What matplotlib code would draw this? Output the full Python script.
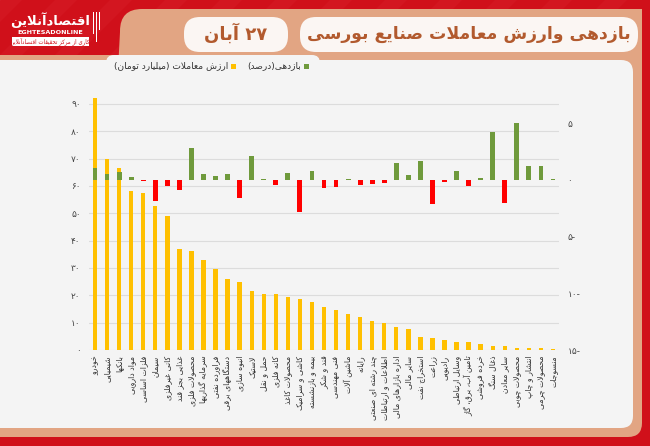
import re
import matplotlib
matplotlib.use("Agg")
import matplotlib.pyplot as plt
from matplotlib.patches import FancyBboxPatch, Rectangle, Polygon

# ---------------- data ----------------
categories = [
    "خودرو", "شیمیایی", "بانکها", "مواد دارویی", "فلزات اساسی", "سیمان",
    "کانی غیرفلزی", "غذایی بجز قند", "محصولات فلزی", "سرمایه گذاریها",
    "فراورده نفتی", "دستگاههای برقی", "انبوه سازی", "لاستیک", "حمل و نقل",
    "کانه فلزی", "محصولات کاغذ", "کاشی و سرامیک", "بیمه و بازنشسته",
    "قند و شکر", "فنی مهندسی", "ماشین آلات", "رایانه", "چند رشته ای صنعتی",
    "اطلاعات و ارتباطات", "اداره بازارهای مالی", "سایر مالی", "استخراج نفت",
    "زراعت", "رادیویی", "وسایل ارتباطی", "تامین آب، برق، گاز", "خرده فروشی",
    "ذغال سنگ", "سایر معادن", "محصولات چوبی", "انتشار و چاپ",
    "محصولات چرمی", "منسوجات",
]
trade_value = [
    92.1, 70.0, 66.7, 58.3, 57.3, 52.8, 49.0, 37.0, 36.2, 32.9,
    29.5, 26.1, 25.0, 21.7, 20.6, 20.4, 19.5, 18.5, 17.7, 15.7,
    14.6, 13.0, 12.2, 10.6, 10.0, 8.3, 7.8, 4.6, 4.3, 3.8,
    3.0, 3.0, 2.1, 1.6, 1.3, 0.9, 0.8, 0.7, 0.2,
]
returns_pct = [
    1.10, 0.53, 0.67, 0.29, -0.05, -1.89, -0.56, -0.88, 2.79, 0.53,
    0.35, 0.53, -1.56, 2.14, 0.07, -0.44, 0.58, -2.80, 0.82, -0.71,
    -0.65, 0.10, -0.44, -0.38, -0.30, 1.47, 0.44, 1.68, -2.12, -0.21,
    0.82, -0.50, 0.20, 4.26, -2.03, 5.00, 1.20, 1.26, 0.05,
]
left_ticks = [0, 10, 20, 30, 40, 50, 60, 70, 80, 90]
right_ticks = [-15, -10, -5, 0, 5]
title = "بازدهی وارزش معاملات صنایع بورسی"
date_text = "۲۷ آبان"
legend_return = "بازدهی(درصد)"
legend_value = "ارزش معاملات (میلیارد تومان)"

# ---------------- minimal Persian shaping ----------------
F = {
    'ء': ('\uFE80', None, None, None),
    'آ': ('\uFE81', '\uFE82', None, None),
    'أ': ('\uFE83', '\uFE84', None, None),
    'ؤ': ('\uFE85', '\uFE86', None, None),
    'إ': ('\uFE87', '\uFE88', None, None),
    'ئ': ('\uFE89', '\uFE8A', '\uFE8B', '\uFE8C'),
    'ا': ('\uFE8D', '\uFE8E', None, None),
    'ب': ('\uFE8F', '\uFE90', '\uFE91', '\uFE92'),
    'ة': ('\uFE93', '\uFE94', None, None),
    'ت': ('\uFE95', '\uFE96', '\uFE97', '\uFE98'),
    'ث': ('\uFE99', '\uFE9A', '\uFE9B', '\uFE9C'),
    'ج': ('\uFE9D', '\uFE9E', '\uFE9F', '\uFEA0'),
    'ح': ('\uFEA1', '\uFEA2', '\uFEA3', '\uFEA4'),
    'خ': ('\uFEA5', '\uFEA6', '\uFEA7', '\uFEA8'),
    'د': ('\uFEA9', '\uFEAA', None, None),
    'ذ': ('\uFEAB', '\uFEAC', None, None),
    'ر': ('\uFEAD', '\uFEAE', None, None),
    'ز': ('\uFEAF', '\uFEB0', None, None),
    'س': ('\uFEB1', '\uFEB2', '\uFEB3', '\uFEB4'),
    'ش': ('\uFEB5', '\uFEB6', '\uFEB7', '\uFEB8'),
    'ص': ('\uFEB9', '\uFEBA', '\uFEBB', '\uFEBC'),
    'ض': ('\uFEBD', '\uFEBE', '\uFEBF', '\uFEC0'),
    'ط': ('\uFEC1', '\uFEC2', '\uFEC3', '\uFEC4'),
    'ظ': ('\uFEC5', '\uFEC6', '\uFEC7', '\uFEC8'),
    'ع': ('\uFEC9', '\uFECA', '\uFECB', '\uFECC'),
    'غ': ('\uFECD', '\uFECE', '\uFECF', '\uFED0'),
    'ف': ('\uFED1', '\uFED2', '\uFED3', '\uFED4'),
    'ق': ('\uFED5', '\uFED6', '\uFED7', '\uFED8'),
    'ك': ('\uFED9', '\uFEDA', '\uFEDB', '\uFEDC'),
    'ل': ('\uFEDD', '\uFEDE', '\uFEDF', '\uFEE0'),
    'م': ('\uFEE1', '\uFEE2', '\uFEE3', '\uFEE4'),
    'ن': ('\uFEE5', '\uFEE6', '\uFEE7', '\uFEE8'),
    'ه': ('\uFEE9', '\uFEEA', '\uFEEB', '\uFEEC'),
    'و': ('\uFEED', '\uFEEE', None, None),
    'ى': ('\uFEEF', '\uFEF0', None, None),
    'ي': ('\uFEF1', '\uFEF2', '\uFEF3', '\uFEF4'),
    'پ': ('\uFB56', '\uFB57', '\uFB58', '\uFB59'),
    'چ': ('\uFB7A', '\uFB7B', '\uFB7C', '\uFB7D'),
    'ژ': ('\uFB8A', '\uFB8B', None, None),
    'ک': ('\uFB8E', '\uFB8F', '\uFB90', '\uFB91'),
    'گ': ('\uFB92', '\uFB93', '\uFB94', '\uFB95'),
    'ی': ('\uFBFC', '\uFBFD', '\uFBFE', '\uFBFF'),
}
LAM_ALEF = {'ا': ('\uFEFB', '\uFEFC'), 'آ': ('\uFEF5', '\uFEF6'),
            'أ': ('\uFEF7', '\uFEF8'), 'إ': ('\uFEF9', '\uFEFA')}
MIRROR = {'(': ')', ')': '(', '«': '»', '»': '«'}


def _dual(c):
    return c in F and F[c][2] is not None


def _shape(text):
    out = []
    i, n = 0, len(text)
    while i < n:
        c = text[i]
        if c not in F:
            if c != '\u200c':
                out.append(c)
            i += 1
            continue
        prev = text[i - 1] if i > 0 else None
        cp = prev is not None and _dual(prev) and F[c][1] is not None
        if c == 'ل' and i + 1 < n and text[i + 1] in LAM_ALEF:
            lig = LAM_ALEF[text[i + 1]]
            out.append(lig[1] if cp else lig[0])
            i += 2
            continue
        nxt = text[i + 1] if i + 1 < n else None
        cn = _dual(c) and nxt is not None and nxt in F and F[nxt][1] is not None
        iso, fin, ini, med = F[c]
        if cp and cn:
            g = med
        elif cp:
            g = fin
        elif cn:
            g = ini
        else:
            g = iso
        out.append(g)
        i += 1
    return ''.join(out)


def fa(text):
    s = _shape(text)
    runs = re.findall(r'[0-9۰-۹]+|[^0-9۰-۹]+', s)
    res = []
    for r in reversed(runs):
        if re.match(r'[0-9۰-۹]', r):
            res.append(r)
        else:
            res.append(''.join(MIRROR.get(ch, ch) for ch in reversed(r)))
    return ''.join(res)


def fa_num(v):
    return fa(str(v).translate(str.maketrans('0123456789', '۰۱۲۳۴۵۶۷۸۹')))


plt.rcParams['font.family'] = ['DejaVu Sans']

# ---------------- figure ----------------
W, H = 650, 446
fig = plt.figure(figsize=(W / 100, H / 100), dpi=100)

bg = fig.add_axes([0, 0, 1, 1], zorder=-10)
bg.set_xlim(0, W)
bg.set_ylim(H, 0)
bg.axis('off')

RED = '#d0101a'
TAN = '#e2a583'
PANEL = '#f4f4f4'
BROWN = '#b25a2e'

bg.add_patch(Rectangle((0, 0), W, H, color=RED, zorder=0))
# subtle diagonal texture in header
for k in range(-2, 14):
    x0 = k * 55
    bg.add_patch(Polygon([(x0, 0), (x0 + 22, 0), (x0 - 38, 60), (x0 - 60, 60)],
                         closed=True, color='#e0303a', alpha=0.2, lw=0, zorder=0.5))
# tan header block
bg.add_patch(Polygon([(145, 9), (W, 9), (W, 70), (118, 70), (120, 32)],
                     closed=True, color=TAN, lw=0, zorder=1))
bg.add_patch(FancyBboxPatch((120, 9), 60, 60, boxstyle='round,pad=0,rounding_size=22',
                            color=TAN, lw=0, zorder=1))
# tan frame of panel
bg.add_patch(FancyBboxPatch((-20, 55), 662, 382, boxstyle='round,pad=0,rounding_size=14',
                            color=TAN, lw=0, zorder=1))
bg.add_patch(Rectangle((642, 0), 8, H, color=RED, lw=0, zorder=1.2))
bg.add_patch(Rectangle((0, 437), W, 9, color=RED, lw=0, zorder=1.2))
# inner light panel
bg.add_patch(FancyBboxPatch((-20, 60), 653, 368, boxstyle='round,pad=0,rounding_size=12',
                            color=PANEL, lw=0, zorder=2))
# legend tab
bg.add_patch(FancyBboxPatch((106, 55), 214, 20, boxstyle='round,pad=0,rounding_size=8',
                            color=PANEL, lw=0, zorder=2))

# pills
bg.add_patch(FancyBboxPatch((300, 17), 338, 35, boxstyle='round,pad=0,rounding_size=16',
                            color='#fbf6f3', lw=0, zorder=3))
bg.add_patch(FancyBboxPatch((184, 17), 104, 35, boxstyle='round,pad=0,rounding_size=16',
                            color='#fbf6f3', lw=0, zorder=3))
bg.text(469, 34, fa(title), ha='center', va='center', fontsize=12.4,
        fontweight='bold', color=BROWN, zorder=4)
bg.text(236, 34, fa(date_text), ha='center', va='center', fontsize=13,
        fontweight='bold', color=BROWN, zorder=4)

# logo
bg.text(50, 20, fa("اقتصادآنلاین"), ha='center', va='center', fontsize=9.5,
        fontweight='bold', color='white', zorder=4)
bg.text(50, 33, "EGHTESADONLINE", ha='center', va='center', fontsize=4.6,
        fontweight='bold', color='white', zorder=4)
bg.add_patch(Rectangle((12, 37), 77, 9, color='white', lw=0, zorder=3))
bg.text(50, 41.5, fa("کاری از مرکز تحقیقات اقتصادآنلاین"), ha='center', va='center',
        fontsize=4, color=RED, zorder=4)
for dx, hh in [(93, 22), (96, 30), (99, 18)]:
    bg.add_patch(Rectangle((dx, 12), 1.4, hh, color='white', lw=0, zorder=3))

# legend
GREEN = '#6f9a3c'
YELLOW = '#ffc000'
REDBAR = '#ff0000'
bg.add_patch(Rectangle((304, 63.5), 5, 5, color=GREEN, lw=0, zorder=4))
bg.text(301, 66, fa(legend_return), ha='right', va='center', fontsize=6.5,
        color='#333333', zorder=4)
bg.add_patch(Rectangle((231, 63.5), 5, 5, color=YELLOW, lw=0, zorder=4))
bg.text(228, 66, fa(legend_value), ha='right', va='center', fontsize=6.5,
        color='#333333', zorder=4)

# ---------------- chart ----------------
ax = fig.add_axes([89 / W, (H - 350) / H, 470 / W, 259.7 / H])
ax.patch.set_alpha(0)
x = list(range(len(categories)))
ax.bar(x, trade_value, width=0.36, color=YELLOW, zorder=2)
ax.set_xlim(-0.5, len(categories) - 0.5)
ax.set_ylim(0, 95)
ax.set_yticks(left_ticks)
ax.set_yticklabels([fa_num(v) for v in left_ticks], fontsize=6.5, color='#444444')
ax.yaxis.grid(True, color='#dcdcdc', lw=0.8)
ax.set_axisbelow(True)
ax.set_xticks(x)
ax.set_xticklabels([fa(c) for c in categories], rotation=90, fontsize=5.6,
                   color='#333333')
ax.tick_params(axis='both', length=0)
ax.tick_params(axis='x', pad=4)
ax.tick_params(axis='y', pad=6)
for s in ax.spines.values():
    s.set_visible(False)

ax2 = ax.twinx()
ax2.patch.set_alpha(0)
colors = [GREEN if r >= 0 else REDBAR for r in returns_pct]
ax2.bar(x, returns_pct, width=0.4, color=colors, zorder=3)
ax2.set_ylim(-15, 7.92)
ax2.set_yticks(right_ticks)
ax2.set_yticklabels([fa_num(v) for v in right_ticks], fontsize=6.5, color='#444444')
ax2.tick_params(axis='y', length=0, pad=6)
for s in ax2.spines.values():
    s.set_visible(False)

fig.savefig('out.png', dpi=100)
